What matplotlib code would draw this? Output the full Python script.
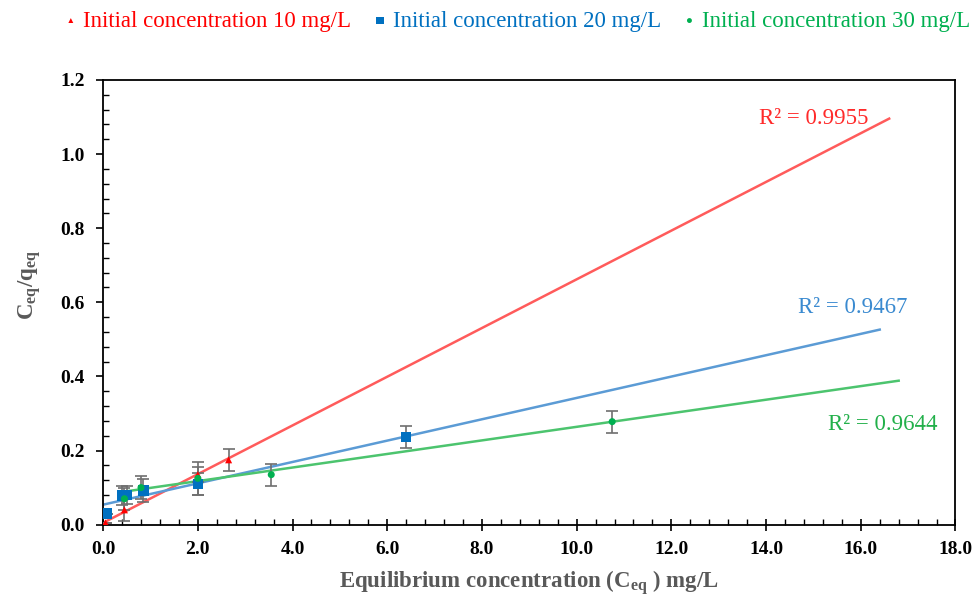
import numpy as np
import matplotlib
matplotlib.use('Agg')
import matplotlib.pyplot as plt
from matplotlib.ticker import MultipleLocator, FormatStrFormatter

plt.rcParams['font.family'] = ['Liberation Serif', 'DejaVu Serif']
plt.rcParams['mathtext.fontset'] = 'custom'
plt.rcParams['mathtext.rm'] = 'Liberation Serif'
plt.rcParams['mathtext.bf'] = 'Liberation Serif:bold'
plt.rcParams['mathtext.default'] = 'regular'

# Данные: три начальные концентрации
labels = ['Initial concentration 10 mg/L', 'Initial concentration 20 mg/L',
          'Initial concentration 30 mg/L']

x10 = [0.05, 0.45, 2.0, 2.65]
y10 = [0.005, 0.04, 0.135, 0.175]
e10 = [0.0, 0.03, 0.02, 0.03]

x20 = [0.08, 0.4, 0.5, 0.85, 2.0, 6.4]
y20 = [0.03, 0.078, 0.08, 0.092, 0.11, 0.237]
e20 = [0.0, 0.025, 0.025, 0.03, 0.03, 0.03]

x30 = [0.45, 0.8, 2.0, 3.55, 10.75]
y30 = [0.07, 0.1, 0.125, 0.135, 0.278]
e30 = [0.03, 0.03, 0.045, 0.03, 0.03]

# Линейные тренды (наклон, пересечение, диапазон x)
fit_slope = [0.0657, 0.0288, 0.0183]
fit_icpt = [0.005, 0.054, 0.081]
fit_xmin = [0.0, 0.0, 0.45]
fit_xmax = [16.6, 16.4, 16.8]
r2_text = ['R² = 0.9955', 'R² = 0.9467', 'R² = 0.9644']
r2_pos = [(13.85, 1.095), (14.67, 0.585), (15.3, 0.27)]

marker_colors = ['#FF0000', '#0070C0', '#00B050']
line_colors = ['#FF5B5B', '#5B9BD5', '#4CC46E']
text_colors = ['#FF2A2A', '#3A8AD0', '#22B04A']
markers = ['^', 's', 'o']
msizes = [4, 6, 4]

fig, ax = plt.subplots(figsize=(9.73, 6.01), dpi=100)
fig.subplots_adjust(left=0.106, right=0.982, bottom=0.127, top=0.867)

series = [(x10, y10, e10), (x20, y20, e20), (x30, y30, e30)]
handles = []
for i, (xs, ys, es) in enumerate(series):
    xf = np.array([fit_xmin[i], fit_xmax[i]])
    ax.plot(xf, fit_slope[i] * xf + fit_icpt[i], color=line_colors[i], lw=1.8, zorder=2)
    ax.errorbar(xs, ys, yerr=es, fmt='none', ecolor='#6E6E6E', elinewidth=1.2,
                capsize=4, capthick=1.2, zorder=3)
    h = ax.scatter(xs, ys, marker=markers[i], s=msizes[i] ** 2 * 1.6,
                   color=marker_colors[i], edgecolors='none', zorder=4, label=labels[i])
    handles.append(h)
    ax.text(r2_pos[i][0], r2_pos[i][1], r2_text[i], color=text_colors[i],
            fontsize=16.5, va='center')

ax.set_xlim(0, 18)
ax.set_ylim(0, 1.2)
ax.xaxis.set_major_locator(MultipleLocator(2))
ax.xaxis.set_minor_locator(MultipleLocator(0.4))
ax.yaxis.set_major_locator(MultipleLocator(0.2))
ax.yaxis.set_minor_locator(MultipleLocator(0.04))
ax.xaxis.set_major_formatter(FormatStrFormatter('%.1f'))
ax.yaxis.set_major_formatter(FormatStrFormatter('%.1f'))
ax.tick_params(axis='x', which='major', direction='inout', length=8, width=1.2, pad=8)
ax.tick_params(axis='y', which='major', direction='out', length=5, width=1.2, pad=8)
ax.tick_params(which='minor', direction='in', length=4, width=1)
ax.tick_params(top=False, right=False, which='both')
for lbl in ax.get_xticklabels() + ax.get_yticklabels():
    lbl.set_fontweight('bold')
    lbl.set_fontsize(14)
for sp in ax.spines.values():
    sp.set_linewidth(1.3)

ax.set_xlabel('Equilibrium concentration (C$_{eq}$ ) mg/L', fontsize=16.5,
              fontweight='bold', color='#595959')
ax.xaxis.set_label_coords(0.5, -0.098)
ax.set_ylabel('C$_{eq}$/q$_{eq}$', fontsize=16.5, fontweight='bold',
              color='#595959')
ax.yaxis.set_label_coords(-0.07, 0.54)

leg = fig.legend(handles=handles, loc='center', bbox_to_anchor=(0.532, 0.965), ncol=3,
                 frameon=False, fontsize=16.5, handlelength=0.5, handletextpad=0.3,
                 columnspacing=1.0, markerscale=0.7)
for t, c in zip(leg.get_texts(), marker_colors):
    t.set_color(c)

fig.savefig('out.png', dpi=100)
